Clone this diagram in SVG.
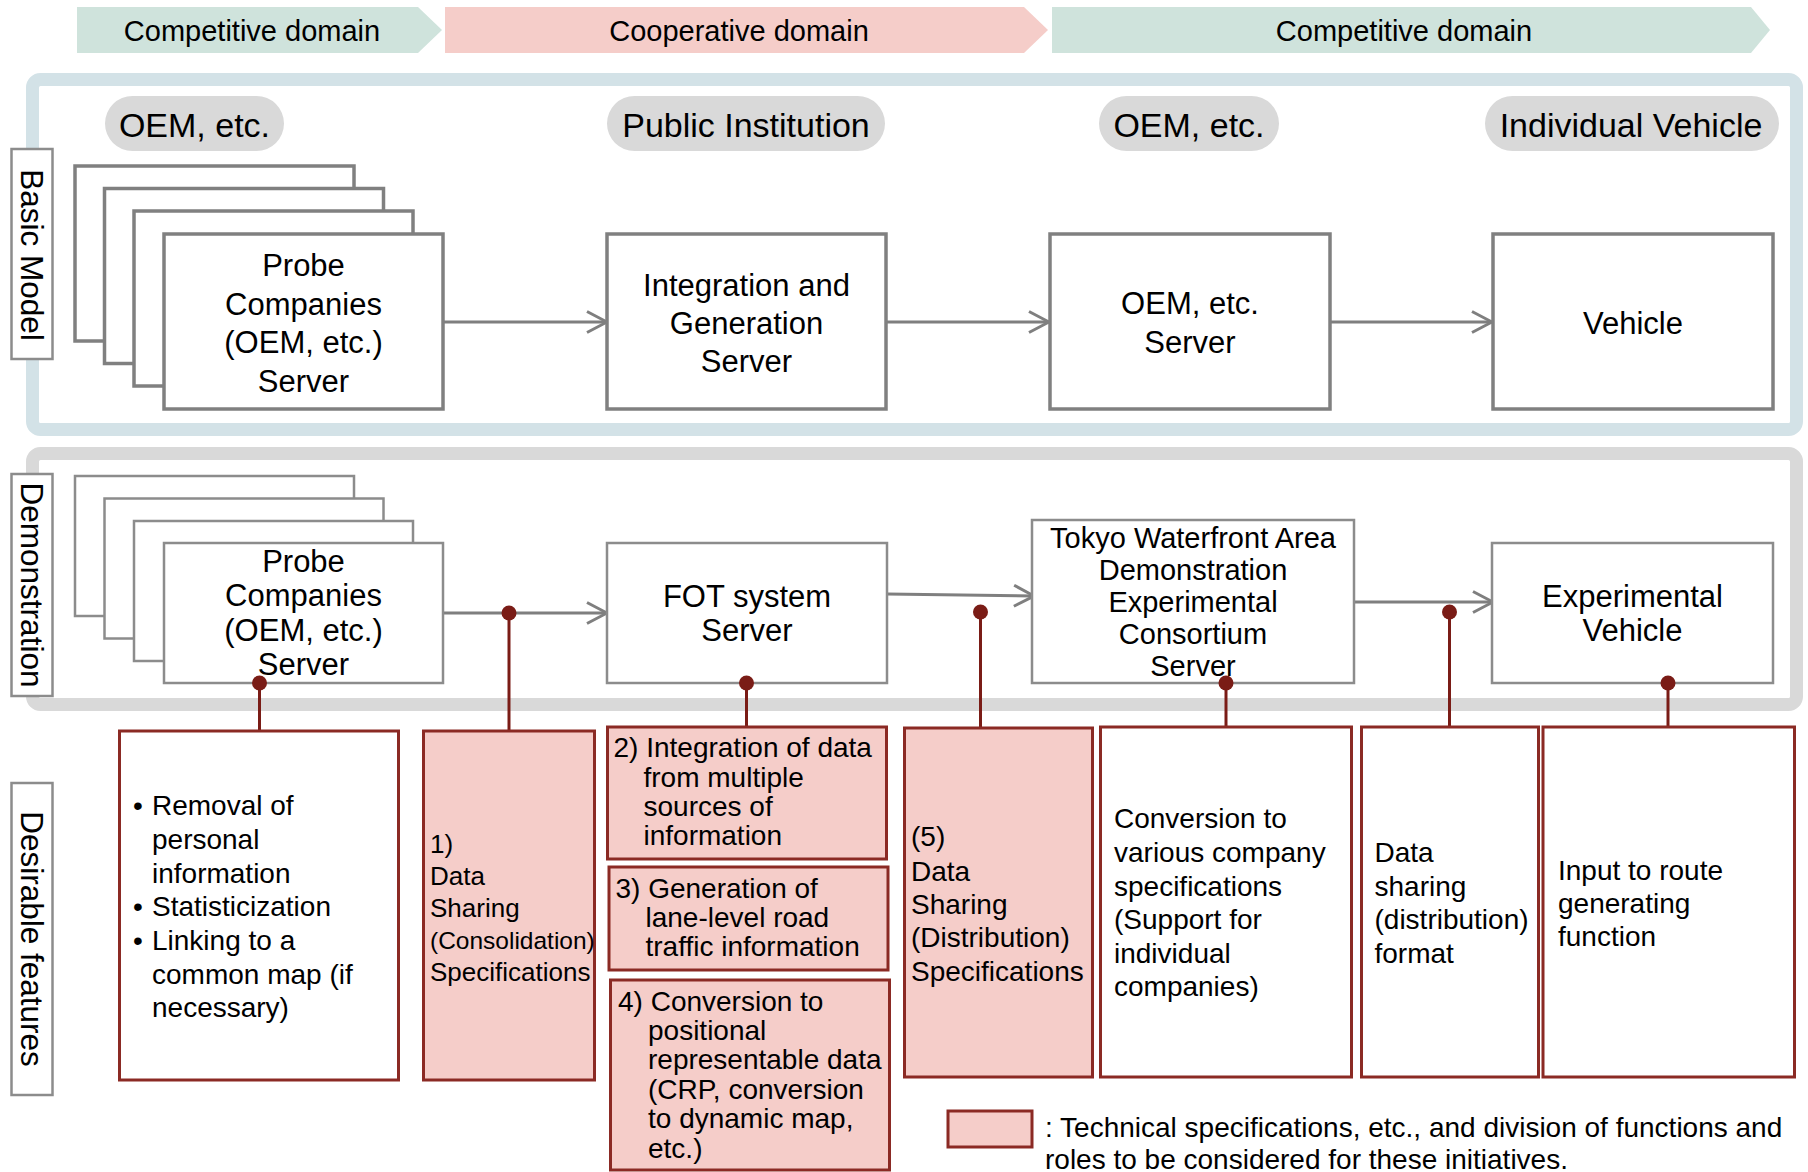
<svg xmlns="http://www.w3.org/2000/svg" width="1808" height="1172" viewBox="0 0 1808 1172">
<style>
text{font-family:"Liberation Sans",Arial,sans-serif;fill:#000}
.ban{font-size:29px;text-anchor:middle}
.pill{fill:#d9d9d9}
.pt{font-size:34px;text-anchor:middle}
.side{fill:#fff;stroke:#8c8c8c;stroke-width:2.5}
.st{font-size:31.5px;text-anchor:middle}
.nb{fill:#fff;stroke:#808080;stroke-width:3.5}
.nd{fill:#fff;stroke:#8c8c8c;stroke-width:2.5}
.nt{font-size:31px;text-anchor:middle}
.tk{font-size:29px;text-anchor:middle}
.fw{fill:#fff;stroke:#8b2a24;stroke-width:3}
.fp{fill:#f5cdc9;stroke:#8b2a24;stroke-width:3}
.ft{font-size:28px}
.ft1{font-size:26px}
.arr{stroke:#7f7f7f;stroke-width:3;fill:none;marker-end:url(#ah)}
.rl{stroke:#7a1c16;stroke-width:3;fill:none}
.dot{fill:#7a1c16}
</style>
<defs>
<marker id="ah" markerUnits="userSpaceOnUse" markerWidth="26" markerHeight="26" viewBox="0 0 26 26" refX="23" refY="13" orient="auto">
<path d="M3,2.5 L23,13 L3,23.5" fill="none" stroke="#7f7f7f" stroke-width="3"/>
</marker>
</defs>
<rect width="1808" height="1172" fill="#fff"/>

<g id="banners">
<polygon points="77,7 418,7 442,30 418,53 77,53" fill="#cfe3dc"/>
<text class="ban" x="252" y="41">Competitive domain</text>
<polygon points="445,7 1024,7 1048,30 1024,53 445,53" fill="#f5cdc9"/>
<text class="ban" x="739" y="41">Cooperative domain</text>
<polygon points="1052,7 1751,7 1770,30 1751,53 1052,53" fill="#cfe3dc"/>
<text class="ban" x="1404" y="41">Competitive domain</text>
</g>

<g id="frames">
<rect x="32.5" y="79.5" width="1764" height="350" rx="8" fill="none" stroke="#d3e2e7" stroke-width="13"/>
<rect x="32.5" y="453.5" width="1764" height="251" rx="8" fill="none" stroke="#d9d9d9" stroke-width="13"/>
</g>

<g id="side-labels">
<g id="label-basic"><rect class="side" x="11.5" y="149" width="41" height="210"/><text class="st" transform="translate(21 255) rotate(90)">Basic Model</text></g>
<g id="label-demo"><rect class="side" x="11.5" y="474" width="41" height="222"/><text class="st" transform="translate(21 585) rotate(90)">Demonstration</text></g>
<g id="label-features"><rect class="side" x="11.5" y="783" width="41" height="312"/><text class="st" transform="translate(21 939) rotate(90)">Desirable features</text></g>
</g>

<g id="pills">
<g id="pill-oem1"><rect class="pill" x="105" y="96" width="179" height="55" rx="27.5"/><text class="pt" x="194.5" y="136.5">OEM, etc.</text></g>
<g id="pill-public"><rect class="pill" x="607" y="96" width="278" height="55" rx="27.5"/><text class="pt" x="746" y="136.5">Public Institution</text></g>
<g id="pill-oem2"><rect class="pill" x="1099" y="96" width="180" height="55" rx="27.5"/><text class="pt" x="1189" y="136.5">OEM, etc.</text></g>
<g id="pill-vehicle"><rect class="pill" x="1485" y="96" width="294" height="55" rx="27.5"/><text class="pt" x="1631" y="136.5">Individual Vehicle</text></g>
</g>

<g id="connectors">
<line class="arr" x1="443" y1="322" x2="607" y2="322"/>
<line class="arr" x1="887" y1="322" x2="1049" y2="322"/>
<line class="arr" x1="1330" y1="322" x2="1492" y2="322"/>
<line class="arr" x1="443" y1="613" x2="607" y2="613"/>
<line class="arr" x1="887" y1="594" x2="1034" y2="596"/>
<line class="arr" x1="1354" y1="602" x2="1493" y2="602"/>
<line class="rl" x1="259.5" y1="683" x2="259.5" y2="731"/>
<line class="rl" x1="509" y1="613" x2="509" y2="731"/>
<line class="rl" x1="746.5" y1="683" x2="746.5" y2="727"/>
<line class="rl" x1="980.5" y1="612" x2="980.5" y2="728"/>
<line class="rl" x1="1226" y1="683" x2="1226" y2="727"/>
<line class="rl" x1="1449.5" y1="612" x2="1449.5" y2="727"/>
<line class="rl" x1="1668" y1="683" x2="1668" y2="727"/>
<circle class="dot" cx="509" cy="613" r="7.5"/>
<circle class="dot" cx="980.5" cy="612" r="7.5"/>
<circle class="dot" cx="1449.5" cy="612" r="7.5"/>
</g>

<g id="node-probe-basic">
<rect class="nb" x="75" y="166" width="279" height="175"/>
<rect class="nb" x="104.5" y="188.5" width="279" height="175"/>
<rect class="nb" x="134" y="211" width="279" height="175"/>
<rect class="nb" x="164" y="234" width="279" height="175"/>
<text class="nt"><tspan x="303.5" y="276">Probe</tspan><tspan x="303.5" y="314.5">Companies</tspan><tspan x="303.5" y="353">(OEM, etc.)</tspan><tspan x="303.5" y="391.5">Server</tspan></text>
</g>
<g id="node-integration">
<rect class="nb" x="607" y="234" width="279" height="175"/>
<text class="nt"><tspan x="746.5" y="296">Integration and</tspan><tspan x="746.5" y="334">Generation</tspan><tspan x="746.5" y="372">Server</tspan></text>
</g>
<g id="node-oem-server">
<rect class="nb" x="1050" y="234" width="280" height="175"/>
<text class="nt"><tspan x="1190" y="314">OEM, etc.</tspan><tspan x="1190" y="353">Server</tspan></text>
</g>
<g id="node-vehicle">
<rect class="nb" x="1493" y="234" width="280" height="175"/>
<text class="nt" x="1633" y="334">Vehicle</text>
</g>

<g id="node-probe-demo">
<rect class="nd" x="75" y="476" width="279" height="140"/>
<rect class="nd" x="104.5" y="498.5" width="279" height="140"/>
<rect class="nd" x="134" y="521" width="279" height="140"/>
<rect class="nd" x="164" y="543" width="279" height="140"/>
<text class="nt"><tspan x="303.5" y="571.5">Probe</tspan><tspan x="303.5" y="606">Companies</tspan><tspan x="303.5" y="640.5">(OEM, etc.)</tspan><tspan x="303.5" y="675">Server</tspan></text>
</g>
<g id="node-fot">
<rect class="nd" x="607" y="543" width="280" height="140"/>
<text class="nt"><tspan x="747" y="607">FOT system</tspan><tspan x="747" y="640.5">Server</tspan></text>
</g>
<g id="node-tokyo">
<rect class="nd" x="1032" y="520" width="322" height="163"/>
<text class="tk"><tspan x="1193" y="547.5">Tokyo Waterfront Area</tspan><tspan x="1193" y="580">Demonstration</tspan><tspan x="1193" y="612">Experimental</tspan><tspan x="1193" y="643.5">Consortium</tspan><tspan x="1193" y="675.5">Server</tspan></text>
</g>
<g id="node-exp-vehicle">
<rect class="nd" x="1492" y="543" width="281" height="140"/>
<text class="nt"><tspan x="1632.5" y="607">Experimental</tspan><tspan x="1632.5" y="640.5">Vehicle</tspan></text>
</g>
<g id="dots-front">
<circle class="dot" cx="259.5" cy="683" r="7.5"/>
<circle class="dot" cx="746.5" cy="683" r="7.5"/>
<circle class="dot" cx="1226" cy="683" r="7.5"/>
<circle class="dot" cx="1668" cy="683" r="7.5"/>
</g>

<g id="feat-removal">
<rect class="fw" x="119.5" y="731" width="279" height="349"/>
<text class="ft"><tspan x="133" y="815">•</tspan><tspan x="152" y="815">Removal of</tspan><tspan x="152" y="849">personal</tspan><tspan x="152" y="882.5">information</tspan><tspan x="133" y="916">•</tspan><tspan x="152" y="916">Statisticization</tspan><tspan x="133" y="950">•</tspan><tspan x="152" y="950">Linking to a</tspan><tspan x="152" y="983.5">common map (if</tspan><tspan x="152" y="1017">necessary)</tspan></text>
</g>
<g id="feat-1">
<rect class="fp" x="423.5" y="731" width="171" height="349"/>
<text class="ft1"><tspan x="430" y="853">1)</tspan><tspan x="430" y="885">Data</tspan><tspan x="430" y="917">Sharing</tspan><tspan x="430" y="949" style="font-size:24.5px">(Consolidation)</tspan><tspan x="430" y="981">Specifications</tspan></text>
</g>
<g id="feat-2">
<rect class="fp" x="607.5" y="727" width="279" height="132"/>
<text class="ft"><tspan x="613.5" y="757">2) Integration of data</tspan><tspan x="643.5" y="786.5">from multiple</tspan><tspan x="643.5" y="816">sources of</tspan><tspan x="643.5" y="845">information</tspan></text>
</g>
<g id="feat-3">
<rect class="fp" x="609" y="867" width="279" height="103"/>
<text class="ft"><tspan x="615.5" y="898">3) Generation of</tspan><tspan x="645.5" y="927">lane-level road</tspan><tspan x="645.5" y="956">traffic information</tspan></text>
</g>
<g id="feat-4">
<rect class="fp" x="610.5" y="980" width="279" height="190"/>
<text class="ft"><tspan x="618" y="1010.5">4) Conversion to</tspan><tspan x="648" y="1040">positional</tspan><tspan x="648" y="1069">representable data</tspan><tspan x="648" y="1098.5">(CRP, conversion</tspan><tspan x="648" y="1128">to dynamic map,</tspan><tspan x="648" y="1157.5">etc.)</tspan></text>
</g>
<g id="feat-5">
<rect class="fp" x="904.5" y="728" width="188" height="349"/>
<text class="ft"><tspan x="911" y="846">(5)</tspan><tspan x="911" y="880.5">Data</tspan><tspan x="911" y="914">Sharing</tspan><tspan x="911" y="947">(Distribution)</tspan><tspan x="911" y="980.5">Specifications</tspan></text>
</g>
<g id="feat-conversion">
<rect class="fw" x="1100.5" y="727" width="251" height="350"/>
<text class="ft"><tspan x="1114" y="827.5">Conversion to</tspan><tspan x="1114" y="861.5">various company</tspan><tspan x="1114" y="895.5">specifications</tspan><tspan x="1114" y="929">(Support for</tspan><tspan x="1114" y="962.5">individual</tspan><tspan x="1114" y="996">companies)</tspan></text>
</g>
<g id="feat-datasharing">
<rect class="fw" x="1361.5" y="727" width="177" height="350"/>
<text class="ft"><tspan x="1374.5" y="862">Data</tspan><tspan x="1374.5" y="895.5">sharing</tspan><tspan x="1374.5" y="929">(distribution)</tspan><tspan x="1374.5" y="962.5">format</tspan></text>
</g>
<g id="feat-input">
<rect class="fw" x="1543" y="727" width="251.5" height="350"/>
<text class="ft"><tspan x="1558" y="879.5">Input to route</tspan><tspan x="1558" y="913">generating</tspan><tspan x="1558" y="946">function</tspan></text>
</g>

<g id="legend">
<rect class="fp" x="948" y="1111" width="84" height="36"/>
<text class="ft"><tspan x="1045" y="1137">: Technical specifications, etc., and division of functions and</tspan><tspan x="1045" y="1169">roles to be considered for these initiatives.</tspan></text>
</g>
</svg>
